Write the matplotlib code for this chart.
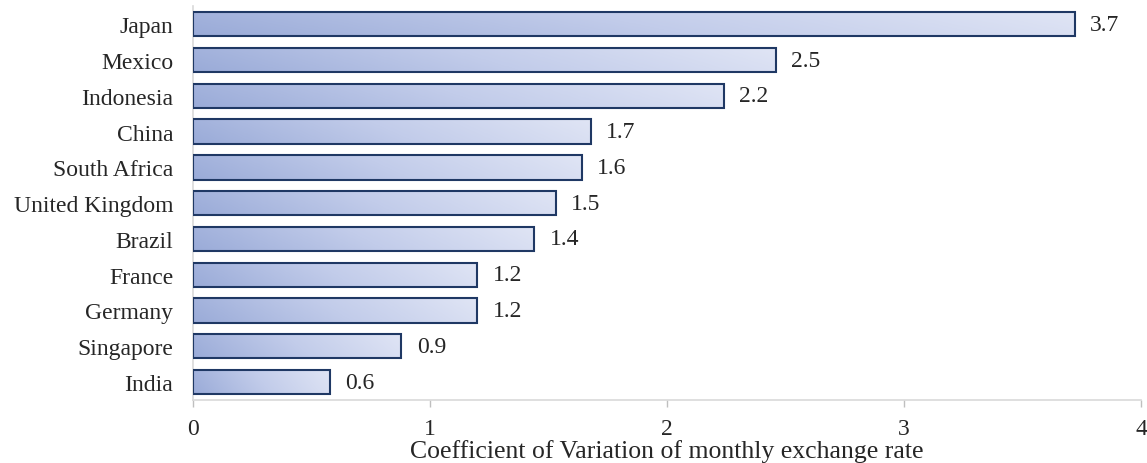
import numpy as np
import matplotlib
matplotlib.use("Agg")
import matplotlib.pyplot as plt
from matplotlib.colors import LinearSegmentedColormap

countries = ["Japan", "Mexico", "Indonesia", "China", "South Africa", "United Kingdom",
             "Brazil", "France", "Germany", "Singapore", "India"]
cv_values = [3.72, 2.46, 2.24, 1.68, 1.64, 1.53, 1.44, 1.20, 1.20, 0.88, 0.58]
value_labels = ["3.7", "2.5", "2.2", "1.7", "1.6", "1.5", "1.4", "1.2", "1.2", "0.9", "0.6"]
x_ticks = [0, 1, 2, 3, 4]

plt.rcParams['font.family'] = ['Liberation Serif', 'DejaVu Serif']

fig = plt.figure(figsize=(11.47, 4.64), dpi=100)
ax = fig.add_axes([0.168, 0.136, 0.827, 0.848])

grad = LinearSegmentedColormap.from_list("bargrad", ["#9aabd8", "#c2ccea", "#e0e5f5"])
gx, gy = np.meshgrid(np.linspace(0, 1, 256), np.linspace(0, 1, 32))
gradient = np.clip(0.88 * gx + 0.12 * (1 - gy), 0, 1)

ypos = np.arange(len(countries))[::-1]
bars = ax.barh(ypos, cv_values, height=0.68, facecolor='none',
               edgecolor='#1f3864', linewidth=1.5, zorder=3)

for bar in bars:
    x0, y0 = bar.get_x(), bar.get_y()
    w, h = bar.get_width(), bar.get_height()
    im = ax.imshow(gradient, cmap=grad, aspect='auto', zorder=2, origin='upper',
                   extent=[x0, x0 + w, y0, y0 + h], interpolation='bicubic')
    im.set_clip_path(bar)

for y, v, lab in zip(ypos, cv_values, value_labels):
    ax.annotate(lab, xy=(v, y), xytext=(11, 0), textcoords='offset points',
                ha='left', va='center', fontsize=17, color='#262626')

ax.set_xlim(0, 4)
ax.set_ylim(-0.5, len(countries) - 0.5)
ax.set_xticks(x_ticks)
ax.set_xticklabels([str(t) for t in x_ticks])
ax.set_yticks(ypos)
ax.set_yticklabels(countries)

ax.tick_params(axis='y', length=0, pad=14, labelsize=17, labelcolor='#262626')
ax.tick_params(axis='x', length=5, width=1, color='#bfbfbf', pad=8,
               labelsize=17, labelcolor='#262626')

for s in ['top', 'right']:
    ax.spines[s].set_visible(False)
ax.spines['left'].set_color('#d9d9d9')
ax.spines['bottom'].set_color('#d9d9d9')
ax.spines['left'].set_linewidth(1.2)
ax.spines['bottom'].set_linewidth(1.2)

ax.set_xlabel("Coefficient of Variation of monthly exchange rate", fontsize=18.5,
              color='#262626', labelpad=0)

fig.savefig("out.png", dpi=100)
